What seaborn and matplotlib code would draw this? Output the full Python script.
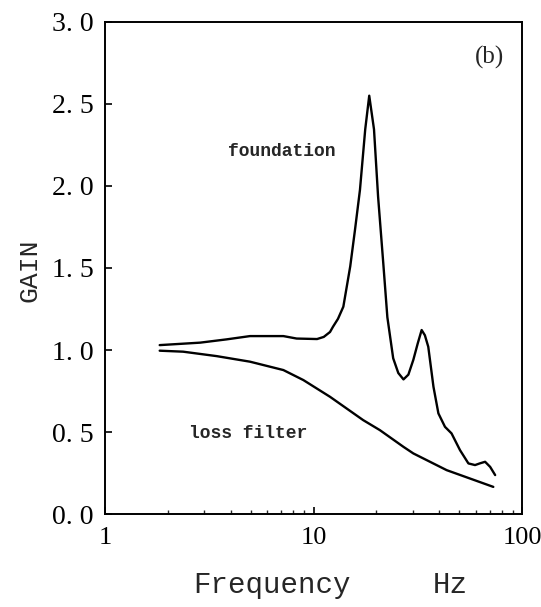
import matplotlib
matplotlib.use("Agg")
import matplotlib.pyplot as plt
import matplotlib.ticker as mticker
import seaborn as sns
import pandas as pd
import numpy as np

# Data
foundation_freq = [1.83, 2.86, 3.83, 4.96, 7.17, 8.3, 10.4, 11.2, 12.0, 12.4, 13.1, 13.9, 15.0, 15.8,
                   16.7, 17.7, 18.5, 19.5, 20.4, 21.6, 22.6, 24.1, 25.5, 27.0, 28.5, 30.1,
                   31.6, 33.0, 34.2, 35.5, 37.6, 39.7, 42.7, 45.9, 50.4, 55.3, 59.5, 63.0,
                   66.5, 70.3, 74.3]
foundation_gain = [1.03, 1.045, 1.065, 1.085, 1.085, 1.07, 1.067, 1.08, 1.11, 1.142, 1.19, 1.264, 1.51, 1.73,
                   1.976, 2.345, 2.55, 2.345, 1.935, 1.53, 1.20, 0.95, 0.86, 0.821, 0.85, 0.94,
                   1.04, 1.122, 1.09, 1.02, 0.776, 0.614, 0.532, 0.492, 0.39, 0.309, 0.299, 0.31,
                   0.319, 0.288, 0.238]
loss_freq = [1.83, 2.37, 3.43, 4.96, 7.17, 8.94, 12.0, 17.3, 20.8, 27.0, 30.1, 43.5, 72.8]
loss_gain = [0.996, 0.99, 0.963, 0.929, 0.878, 0.817, 0.715, 0.573, 0.512, 0.41, 0.37, 0.268, 0.166]

y_ticks = [0.0, 0.5, 1.0, 1.5, 2.0, 2.5, 3.0]
y_tick_labels = ["0. 0", "0. 5", "1. 0", "1. 5", "2. 0", "2. 5", "3. 0"]
x_ticks = [1, 10, 100]
x_tick_labels = ["1", "10", "100"]

df = pd.concat([
    pd.DataFrame({"freq": foundation_freq, "gain": foundation_gain, "curve": "foundation"}),
    pd.DataFrame({"freq": loss_freq, "gain": loss_gain, "curve": "loss filter"}),
])

sns.set_theme(style="white")
mono = ["Liberation Mono", "DejaVu Sans Mono"]
serif = ["Liberation Serif", "DejaVu Serif"]

fig = plt.figure(figsize=(5.41, 6.07), dpi=100)
ax = fig.add_axes([0.194, 0.153, 0.771, 0.811])

sns.lineplot(data=df, x="freq", y="gain", units="curve", estimator=None,
             color="black", linewidth=1.7, ax=ax, legend=False, sort=False)

ax.set_xscale("log")
ax.set_xlim(1, 100)
ax.set_ylim(0, 3.0)
ax.set_yticks(y_ticks)
ax.set_yticklabels(y_tick_labels, fontfamily=serif, fontsize=20)
ax.xaxis.set_major_locator(mticker.FixedLocator(x_ticks))
ax.xaxis.set_minor_locator(mticker.LogLocator(base=10, subs=np.arange(2, 10), numticks=20))
ax.xaxis.set_minor_formatter(mticker.NullFormatter())
ax.set_xticklabels(x_tick_labels, fontfamily=serif, fontsize=19)

ax.tick_params(axis="y", which="major", direction="in", length=5, width=1.2, left=True, pad=8, colors="black")
ax.tick_params(axis="x", which="major", direction="in", length=5, width=1.2, bottom=True, pad=9, colors="black")
ax.tick_params(axis="x", which="minor", direction="in", length=3, width=1.0, bottom=True)

for s in ax.spines.values():
    s.set_color("black")
    s.set_linewidth(1.4)

ax.set_xlabel("")
ax.set_ylabel("")
fig.text(30 / 541, 1 - 270 / 607, "GAIN", rotation=90, ha="center", va="center",
         fontfamily=mono, fontsize=19)
fig.text(272 / 541, 1 - 585 / 607, "Frequency", ha="center", va="center",
         fontfamily=mono, fontsize=21)
fig.text(450 / 541, 1 - 585 / 607, "Hz", ha="center", va="center",
         fontfamily=mono, fontsize=21)

fig.text(282 / 541, 1 - 152 / 607, "foundation", ha="center", va="center",
         fontfamily=mono, fontsize=13, fontweight="bold")
fig.text(248 / 541, 1 - 433 / 607, "loss filter", ha="center", va="center",
         fontfamily=mono, fontsize=13, fontweight="bold")
fig.text(490 / 541, 1 - 57 / 607, "(b)", ha="center", va="center",
         fontfamily=serif, fontsize=18)

fig.savefig("out.png", dpi=100, facecolor="white")
